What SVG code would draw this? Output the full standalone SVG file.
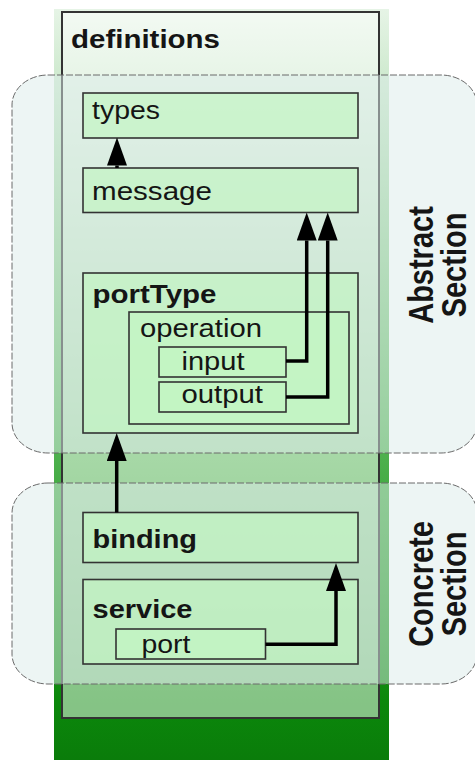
<svg xmlns="http://www.w3.org/2000/svg" width="475" height="760" viewBox="0 0 475 760">
<defs>
<linearGradient id="stripGrad" x1="0" y1="9" x2="0" y2="760" gradientUnits="userSpaceOnUse">
<stop offset="0" stop-color="#e6f4e6"/>
<stop offset="0.6" stop-color="#4cb04c"/>
<stop offset="0.92" stop-color="#0b880b"/>
<stop offset="1" stop-color="#0a7c0a"/>
</linearGradient>
<marker id="arrow" markerUnits="userSpaceOnUse" viewBox="0 0 28 20" markerWidth="28" markerHeight="20" refX="0" refY="10" orient="auto">
<path d="M0,0 L28,10 L0,20 Z" fill="#000"/>
</marker>
</defs>
<style>
.box{fill:rgb(195,245,195);fill-opacity:0.7;stroke:#333;stroke-width:1.6}
.section{fill:rgb(220,235,233);fill-opacity:0.5;stroke:#6a6a6a;stroke-width:1;stroke-dasharray:7,2}
.lbl{font-family:"Liberation Sans",Arial,Helvetica,sans-serif;font-size:25px;fill:#151515}
.b{font-weight:bold}
.side{font-family:"Liberation Sans",Arial,Helvetica,sans-serif;font-size:29px;font-weight:bold;fill:#151515;text-anchor:middle}
.conn{fill:none;stroke:#000;stroke-width:3.5;stroke-linejoin:miter}
</style>

<rect id="strip" x="54" y="9" width="335" height="751" fill="url(#stripGrad)"/>

<g id="definitions">
<rect x="62" y="12" width="317" height="706" fill="#fff" fill-opacity="0.5" stroke="#333" stroke-width="2"/>
<text class="lbl b" x="71" y="48" textLength="149" lengthAdjust="spacingAndGlyphs">definitions</text>
</g>

<g id="abstract-section">
<rect class="section" x="12" y="75" width="465" height="378" rx="36" ry="30"/>
<text class="side" transform="translate(433,265) scale(1.2,1) rotate(-90)">Abstract</text>
<text class="side" transform="translate(466,265) scale(1.2,1) rotate(-90)">Section</text>
</g>

<g id="concrete-section">
<rect class="section" x="12" y="483" width="465" height="201" rx="36" ry="30"/>
<text class="side" transform="translate(433,584) scale(1.2,1) rotate(-90)">Concrete</text>
<text class="side" transform="translate(466,584) scale(1.2,1) rotate(-90)">Section</text>
</g>

<g id="types">
<rect class="box" x="83" y="93" width="275" height="45"/>
<text class="lbl" x="92" y="119" textLength="68" lengthAdjust="spacingAndGlyphs">types</text>
</g>

<g id="message">
<rect class="box" x="83" y="168" width="275" height="44.5"/>
<text class="lbl" x="92" y="200" textLength="120" lengthAdjust="spacingAndGlyphs">message</text>
</g>

<g id="portType">
<rect class="box" x="83" y="273" width="275" height="160"/>
<text class="lbl b" x="92.5" y="303" textLength="124" lengthAdjust="spacingAndGlyphs">portType</text>
</g>

<g id="operation">
<rect class="box" x="129" y="312" width="220" height="112"/>
<text class="lbl" x="140" y="337" textLength="122" lengthAdjust="spacingAndGlyphs">operation</text>
</g>

<g id="input">
<rect class="box" x="159" y="347" width="127" height="30"/>
<text class="lbl" x="181.5" y="370" textLength="63" lengthAdjust="spacingAndGlyphs">input</text>
</g>

<g id="output">
<rect class="box" x="159" y="382" width="127" height="30"/>
<text class="lbl" x="181.5" y="403" textLength="81.5" lengthAdjust="spacingAndGlyphs">output</text>
</g>

<g id="binding">
<rect class="box" x="83" y="512.5" width="275" height="50"/>
<text class="lbl b" x="92.5" y="548" textLength="104.5" lengthAdjust="spacingAndGlyphs">binding</text>
</g>

<g id="service">
<rect class="box" x="83" y="579.5" width="275" height="84.5"/>
<text class="lbl b" x="92.5" y="618" textLength="100" lengthAdjust="spacingAndGlyphs">service</text>
</g>

<g id="port">
<rect class="box" x="116" y="629" width="149.5" height="30"/>
<text class="lbl" x="141.5" y="653" textLength="49" lengthAdjust="spacingAndGlyphs">port</text>
</g>

<g id="connectors">
<path class="conn" d="M117,168 L117,165.5" marker-end="url(#arrow)"/>
<path class="conn" d="M286,361 H306.7 V240.5" marker-end="url(#arrow)"/>
<path class="conn" d="M286,397 H327.7 V240.5" marker-end="url(#arrow)"/>
<path class="conn" d="M116.7,512.5 V461" marker-end="url(#arrow)"/>
<path class="conn" d="M265.5,644.3 H336 V591" marker-end="url(#arrow)"/>
</g>
</svg>
